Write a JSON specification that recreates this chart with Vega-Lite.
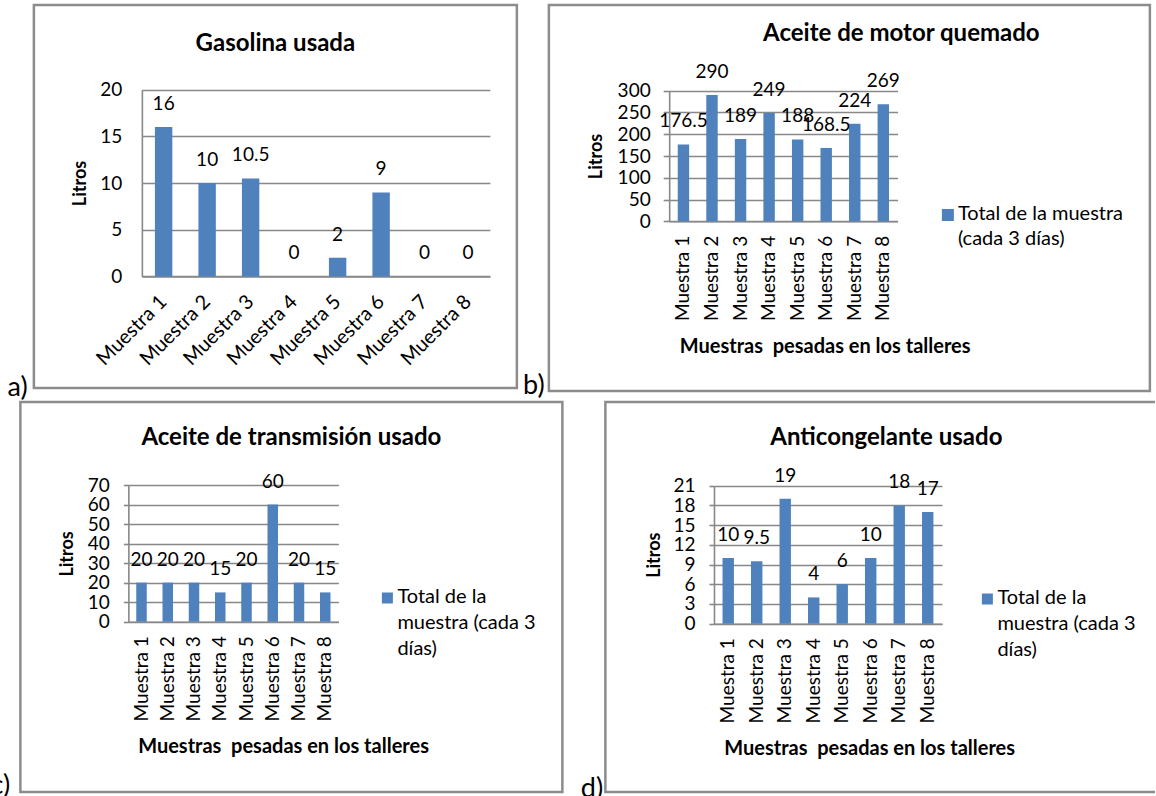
{
  "$schema": "https://vega.github.io/schema/vega-lite/v6.json",
  "background": "white",
  "padding": {"left": -10, "top": 3, "right": -10, "bottom": -6},
  "config": {
    "font": "Lato",
    "view": {"stroke": "#8c8c8c", "strokeWidth": 2.5},
    "axis": {
      "labelColor": "#000", "titleColor": "#000", "labelFont": "Lato", "titleFont": "Lato",
      "labelFontSize": 19, "titleFontSize": 20, "titleFontWeight": "bold",
      "domainColor": "#888888", "domainWidth": 1.6, "gridColor": "#888888", "gridWidth": 1.6,
      "tickColor": "#888888", "tickWidth": 1.6, "labelOverlap": false
    },
    "axisY": {"titleFontSize": 18},
    "title": {"color": "#000", "font": "Lato", "fontSize": 24, "fontWeight": "bold"},
    "text": {"font": "Lato", "fontSize": 19, "color": "#000"}
  },
  "resolve": {"scale": {"color": "independent"}, "legend": {"color": "independent"}},
  "center": true,
  "spacing": -6,
  "vconcat": [
    {
      "spacing": 4,
      "resolve": {"scale": {"color": "independent"}, "legend": {"color": "independent"}},
      "hconcat": [
        {
          "title": {"text": "a)", "orient": "bottom", "anchor": "start", "align": "right", "baseline": "alphabetic", "offset": 7, "dx": -5, "fontSize": 27, "fontWeight": "normal"},
          "vconcat": [
            {
              "width": 483, "height": 383,
              "title": {"text": "Gasolina usada", "offset": -62.5, "baseline": "middle"},
              "data": {"values": [
                {"muestra": "Muestra 1", "litros": 16},
                {"muestra": "Muestra 2", "litros": 10},
                {"muestra": "Muestra 3", "litros": 10.5},
                {"muestra": "Muestra 4", "litros": 0},
                {"muestra": "Muestra 5", "litros": 2},
                {"muestra": "Muestra 6", "litros": 9},
                {"muestra": "Muestra 7", "litros": 0},
                {"muestra": "Muestra 8", "litros": 0}
              ]},
              "encoding": {
                "x": {"field": "muestra", "type": "nominal", "sort": null,
                  "scale": {"range": [108, 456], "paddingInner": 0.6, "paddingOuter": 0.3},
                  "axis": {"title": null, "orient": "bottom", "offset": -111.6, "labelAngle": -45, "labelAlign": "right", "labelBaseline": "middle", "labelPadding": 22, "ticks": false, "labelFontSize": 20}},
                "y": {"field": "litros", "type": "quantitative",
                  "scale": {"domain": [0, 20], "range": [271.4, 84.7], "nice": false},
                  "axis": {"title": "Litros", "values": [0, 5, 10, 15, 20], "offset": -108, "ticks": false, "labelPadding": 20, "grid": true,
                    "titleX": -61.3, "titleY": 178, "titleAngle": -90, "titleAlign": "center", "titleBaseline": "middle"}}
              },
              "layer": [
                {"mark": {"type": "bar", "color": "#4F81BD"}},
                {"mark": {"type": "text", "dy": -17, "baseline": "alphabetic"}, "encoding": {"text": {"field": "litros", "type": "quantitative"}}}
              ]
            }
          ]
        },
        {
          "title": {"text": "b)", "orient": "bottom", "anchor": "start", "align": "right", "baseline": "alphabetic", "offset": 2, "dx": -3, "fontSize": 27, "fontWeight": "normal"},
          "vconcat": [
            {
              "width": 601, "height": 386,
              "title": {"text": "Aceite de motor quemado", "offset": -52.5, "dx": 52, "baseline": "middle"},
              "data": {"values": [
                {"muestra": "Muestra 1", "litros": 176.5, "serie": "Total de la muestra (cada 3 días)"},
                {"muestra": "Muestra 2", "litros": 290, "serie": "Total de la muestra (cada 3 días)"},
                {"muestra": "Muestra 3", "litros": 189, "serie": "Total de la muestra (cada 3 días)"},
                {"muestra": "Muestra 4", "litros": 249, "serie": "Total de la muestra (cada 3 días)"},
                {"muestra": "Muestra 5", "litros": 188, "serie": "Total de la muestra (cada 3 días)"},
                {"muestra": "Muestra 6", "litros": 168.5, "serie": "Total de la muestra (cada 3 días)"},
                {"muestra": "Muestra 7", "litros": 224, "serie": "Total de la muestra (cada 3 días)"},
                {"muestra": "Muestra 8", "litros": 269, "serie": "Total de la muestra (cada 3 días)"}
              ]},
              "encoding": {
                "x": {"field": "muestra", "type": "nominal", "sort": null,
                  "scale": {"range": [120.3, 348.7], "paddingInner": 0.6, "paddingOuter": 0.3},
                  "axis": {"title": "Muestras\u00a0 pesadas en los talleres", "orient": "bottom", "offset": -169.7, "labelAngle": -90, "labelAlign": "right", "labelBaseline": "middle", "labelPadding": 14, "ticks": false,
                    "titleX": 275.8, "titleY": 125.4, "titleAlign": "center", "titleBaseline": "middle"}},
                "y": {"field": "litros", "type": "quantitative",
                  "scale": {"domain": [0, 300], "range": [216.3, 85.7], "nice": false},
                  "axis": {"title": "Litros", "values": [0, 50, 100, 150, 200, 250, 300], "offset": -120.3, "tickSize": 6, "labelPadding": 13, "grid": true,
                    "titleX": -72.3, "titleY": 151, "titleAngle": -90, "titleAlign": "center", "titleBaseline": "middle"}}
              },
              "layer": [
                {"mark": {"type": "bar"},
                 "encoding": {"color": {"field": "serie", "type": "nominal", "scale": {"range": ["#4F81BD"]},
                   "legend": {"orient": "none", "legendX": 389, "legendY": 200, "title": null, "symbolType": "square", "symbolSize": 144, "symbolStrokeWidth": 0,
                     "labelFontSize": 20, "labelColor": "#000", "labelOffset": 0, "labelLimit": 0, "padding": 0, "labelBaseline": "alphabetic",
                     "labelExpr": "['Total de la muestra', '(cada 3 días)']",
                     "encoding": {"labels": {"lineHeight": {"value": 25}, "dy": {"value": 5}}}}}}},
                {"mark": {"type": "text", "dy": -17, "baseline": "alphabetic"}, "encoding": {"text": {"field": "litros", "type": "quantitative"}}}
              ]
            }
          ]
        }
      ]
    },
    {
      "spacing": 16,
      "resolve": {"scale": {"color": "independent"}, "legend": {"color": "independent"}},
      "hconcat": [
        {
          "title": {"text": "c)", "orient": "bottom", "anchor": "start", "align": "right", "baseline": "alphabetic", "offset": 1, "dx": -9, "fontSize": 27, "fontWeight": "normal"},
          "vconcat": [
            {
              "width": 542, "height": 390,
              "title": {"text": "Aceite de transmisión usado", "offset": -60, "baseline": "middle"},
              "data": {"values": [
                {"muestra": "Muestra 1", "litros": 20, "serie": "Total de la muestra (cada 3 días)"},
                {"muestra": "Muestra 2", "litros": 20, "serie": "Total de la muestra (cada 3 días)"},
                {"muestra": "Muestra 3", "litros": 20, "serie": "Total de la muestra (cada 3 días)"},
                {"muestra": "Muestra 4", "litros": 15, "serie": "Total de la muestra (cada 3 días)"},
                {"muestra": "Muestra 5", "litros": 20, "serie": "Total de la muestra (cada 3 días)"},
                {"muestra": "Muestra 6", "litros": 60, "serie": "Total de la muestra (cada 3 días)"},
                {"muestra": "Muestra 7", "litros": 20, "serie": "Total de la muestra (cada 3 días)"},
                {"muestra": "Muestra 8", "litros": 15, "serie": "Total de la muestra (cada 3 días)"}
              ]},
              "encoding": {
                "x": {"field": "muestra", "type": "nominal", "sort": null,
                  "scale": {"range": [108, 318], "paddingInner": 0.6, "paddingOuter": 0.3},
                  "axis": {"title": "Muestras\u00a0 pesadas en los talleres", "orient": "bottom", "offset": -170.3, "labelAngle": -90, "labelAlign": "right", "labelBaseline": "middle", "labelPadding": 14, "ticks": false,
                    "titleX": 262.7, "titleY": 125, "titleAlign": "center", "titleBaseline": "middle"}},
                "y": {"field": "litros", "type": "quantitative",
                  "scale": {"domain": [0, 70], "range": [219.7, 83], "nice": false},
                  "axis": {"title": "Litros", "values": [0, 10, 20, 30, 40, 50, 60, 70], "offset": -108, "tickSize": 5, "labelPadding": 14, "grid": true,
                    "titleX": -60.5, "titleY": 151.4, "titleAngle": -90, "titleAlign": "center", "titleBaseline": "middle"}}
              },
              "layer": [
                {"mark": {"type": "bar"},
                 "encoding": {"color": {"field": "serie", "type": "nominal", "scale": {"range": ["#4F81BD"]},
                   "legend": {"orient": "none", "legendX": 357, "legendY": 186, "title": null, "symbolType": "square", "symbolSize": 121, "symbolStrokeWidth": 0,
                     "labelFontSize": 20, "labelColor": "#000", "labelOffset": 0, "labelLimit": 0, "padding": 0, "labelBaseline": "alphabetic",
                     "labelExpr": "['Total de la', 'muestra (cada 3', 'días)']",
                     "encoding": {"labels": {"lineHeight": {"value": 26}, "dy": {"value": 5}}}}}}},
                {"mark": {"type": "text", "dy": -17, "baseline": "alphabetic"}, "encoding": {"text": {"field": "litros", "type": "quantitative"}}}
              ]
            }
          ]
        },
        {
          "title": {"text": "d)", "orient": "bottom", "anchor": "start", "align": "right", "baseline": "alphabetic", "offset": 4, "dx": -1, "fontSize": 27, "fontWeight": "normal"},
          "vconcat": [
            {
              "width": 558, "height": 390,
              "title": {"text": "Anticongelante usado", "offset": -60, "dx": 2, "baseline": "middle"},
              "data": {"values": [
                {"muestra": "Muestra 1", "litros": 10, "serie": "Total de la muestra (cada 3 días)"},
                {"muestra": "Muestra 2", "litros": 9.5, "serie": "Total de la muestra (cada 3 días)"},
                {"muestra": "Muestra 3", "litros": 19, "serie": "Total de la muestra (cada 3 días)"},
                {"muestra": "Muestra 4", "litros": 4, "serie": "Total de la muestra (cada 3 días)"},
                {"muestra": "Muestra 5", "litros": 6, "serie": "Total de la muestra (cada 3 días)"},
                {"muestra": "Muestra 6", "litros": 10, "serie": "Total de la muestra (cada 3 días)"},
                {"muestra": "Muestra 7", "litros": 18, "serie": "Total de la muestra (cada 3 días)"},
                {"muestra": "Muestra 8", "litros": 17, "serie": "Total de la muestra (cada 3 días)"}
              ]},
              "encoding": {
                "x": {"field": "muestra", "type": "nominal", "sort": null,
                  "scale": {"range": [108.6, 336.6], "paddingInner": 0.6, "paddingOuter": 0.3},
                  "axis": {"title": "Muestras\u00a0 pesadas en los talleres", "orient": "bottom", "offset": -168.3, "labelAngle": -90, "labelAlign": "right", "labelBaseline": "middle", "labelPadding": 14, "ticks": false,
                    "titleX": 263.8, "titleY": 124.3, "titleAlign": "center", "titleBaseline": "middle"}},
                "y": {"field": "litros", "type": "quantitative",
                  "scale": {"domain": [0, 21], "range": [221.7, 83.7], "nice": false},
                  "axis": {"title": "Litros", "values": [0, 3, 6, 9, 12, 15, 18, 21], "offset": -108.6, "tickSize": 5, "labelPadding": 14, "grid": true,
                    "titleX": -59.9, "titleY": 152.7, "titleAngle": -90, "titleAlign": "center", "titleBaseline": "middle"}}
              },
              "layer": [
                {"mark": {"type": "bar"},
                 "encoding": {"color": {"field": "serie", "type": "nominal", "scale": {"range": ["#4F81BD"]},
                   "legend": {"orient": "none", "legendX": 372, "legendY": 187, "title": null, "symbolType": "square", "symbolSize": 121, "symbolStrokeWidth": 0,
                     "labelFontSize": 20, "labelColor": "#000", "labelOffset": 0, "labelLimit": 0, "padding": 0, "labelBaseline": "alphabetic",
                     "labelExpr": "['Total de la', 'muestra (cada 3', 'días)']",
                     "encoding": {"labels": {"lineHeight": {"value": 26}, "dy": {"value": 5}}}}}}},
                {"mark": {"type": "text", "dy": -17, "baseline": "alphabetic"}, "encoding": {"text": {"field": "litros", "type": "quantitative"}}}
              ]
            }
          ]
        }
      ]
    }
  ]
}
